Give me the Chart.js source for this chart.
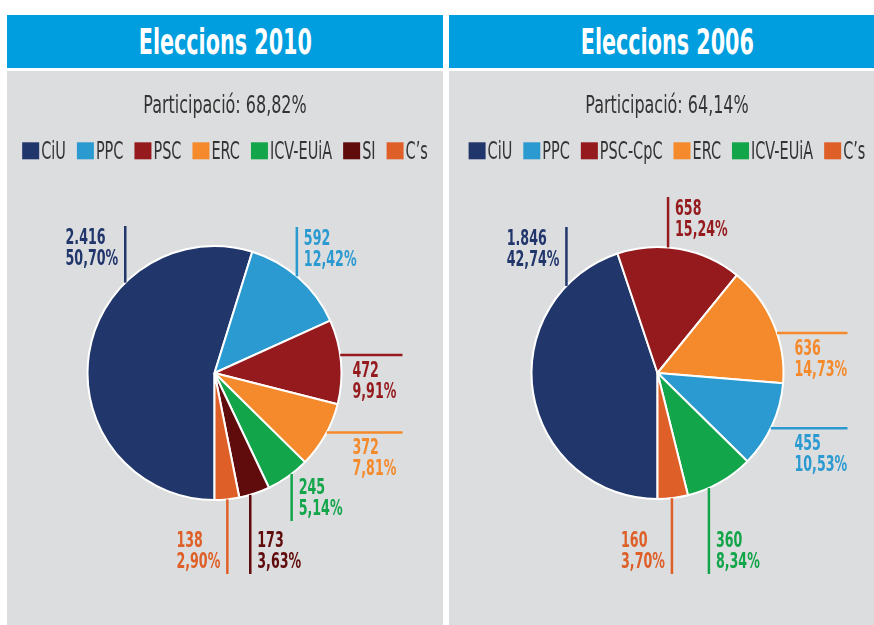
<!DOCTYPE html>
<html><head><meta charset="utf-8">
<script src="https://cdn.jsdelivr.net/npm/chart.js@4.4.1/dist/chart.umd.min.js"></script>
<style>
html,body{margin:0;padding:0;background:#fff;width:874px;height:625px;overflow:hidden;}
.panel{position:absolute;top:15px;width:436px;height:610px;}
.head{position:absolute;left:0;top:0;width:436px;height:53px;background:#009EDE;display:flex;align-items:center;justify-content:center;}
.head span{color:#fff;font:bold 36px "DejaVu Sans Condensed",sans-serif;transform:scaleX(0.64);display:inline-block;white-space:nowrap;}
.body{position:absolute;left:0;top:56px;width:436px;height:554px;background:#DCDDDF;}
canvas{display:block;}
</style></head>
<body>
<div class="panel" style="left:7px"><div class="head"><span id="t1"></span></div><div class="body"><canvas id="c1" width="436" height="554"></canvas></div></div>
<div class="panel" style="left:449px"><div class="head"><span id="t2"></span></div><div class="body"><canvas id="c2" width="436" height="554"></canvas></div></div>
<script>
// ---------- DATA ----------
const year2010 = 2010;
const participation2010 = 68.82;
const parties2010 = ['CiU', 'PPC', 'PSC', 'ERC', 'ICV-EUiA', 'SI', 'C’s'];
const votes2010 = [2416, 592, 472, 372, 245, 173, 138];
const percents2010 = [50.70, 12.42, 9.91, 7.81, 5.14, 3.63, 2.90];
const legendOrder2010 = ['CiU', 'PPC', 'PSC', 'ERC', 'ICV-EUiA', 'SI', 'C’s'];

const year2006 = 2006;
const participation2006 = 64.14;
const parties2006 = ['CiU', 'PSC-CpC', 'ERC', 'PPC', 'ICV-EUiA', 'C’s'];
const votes2006 = [1846, 658, 636, 455, 360, 160];
const percents2006 = [42.74, 15.24, 14.73, 10.53, 8.34, 3.70];
const legendOrder2006 = ['CiU', 'PPC', 'PSC-CpC', 'ERC', 'ICV-EUiA', 'C’s'];

// ---------- STYLE ----------
const partyColors = {
  'CiU': '#21366B', 'PPC': '#2B9AD0', 'PSC': '#951A1D', 'PSC-CpC': '#951A1D',
  'ERC': '#F48A2B', 'ICV-EUiA': '#13A54A', 'SI': '#600B0C', 'C’s': '#DE5F27'
};
const FAMILY = '"DejaVu Sans Condensed",sans-serif';
const LABEL_FONT = 'bold 21px ' + FAMILY, SX_LABEL = 0.67;
const LEG_FONT = '24px ' + FAMILY, SX_LEG = 0.67;
const PART_FONT = '24px ' + FAMILY, SX_PART = 0.74;
const TEXT_GRAY = '#343434';

// label layout (direction of leader line, anchor fraction within slice, reach from centre, text side)
const layout2010 = [
  {dir: 'up', at: 0.686, reach: 147, side: 'left'},
  {dir: 'up', at: 0.478, reach: 146, side: 'right'},
  {dir: 'right', at: 0.42, reach: 188},
  {dir: 'right', at: 0.45, reach: 188},
  {dir: 'down', at: 0.40, reach: 148, side: 'right'},
  {dir: 'down', at: 0.64, reach: 201, side: 'right'},
  {dir: 'down', at: 0.485, reach: 201, side: 'left'}
];
const layout2006 = [
  {dir: 'up', at: 0.828, reach: 146, side: 'left'},
  {dir: 'up', at: 0.405, reach: 176, side: 'right'},
  {dir: 'right', at: 0.583, reach: 190},
  {dir: 'right', at: 0.535, reach: 190},
  {dir: 'down', at: 0.68, reach: 201, side: 'right'},
  {dir: 'down', at: 0.53, reach: 201, side: 'left'}
];

const fmtInt = v => String(v).replace(/\B(?=(\d{3})+(?!\d))/g, '.');
const fmtPct = p => p.toFixed(2).replace('.', ',') + '%';

function condensedText(ctx, text, x, y, sx, align) {
  const w = ctx.measureText(text).width * sx;
  let x0 = x;
  if (align === 'center') x0 = x - w / 2; else if (align === 'right') x0 = x - w;
  ctx.save();
  ctx.translate(x0, y); ctx.scale(sx, 1);
  ctx.textAlign = 'left'; ctx.textBaseline = 'alphabetic';
  ctx.fillText(text, 0, 0);
  ctx.restore();
  return w;
}

const sliceLabels = {
  id: 'sliceLabels',
  afterDatasetsDraw(chart, args, opts) {
    const ctx = chart.ctx;
    const meta = chart.getDatasetMeta(0);
    const ds = chart.data.datasets[0];
    meta.data.forEach((arc, i) => {
      const L = opts.layout[i];
      const p = arc.getProps(['x', 'y', 'startAngle', 'endAngle', 'outerRadius'], true);
      const cx = p.x, cy = p.y, R = p.outerRadius;
      const a = p.startAngle + L.at * (p.endAngle - p.startAngle);
      const px = cx + R * Math.cos(a), py = cy + R * Math.sin(a);
      let ex = px, ey = py;
      if (L.dir === 'up') ey = cy - L.reach;
      else if (L.dir === 'down') ey = cy + L.reach;
      else ex = cx + L.reach;
      const color = ds.backgroundColor[i];
      ctx.save();
      ctx.strokeStyle = color; ctx.lineWidth = 2.5;
      ctx.beginPath(); ctx.moveTo(px, py); ctx.lineTo(ex, ey); ctx.stroke();
      ctx.fillStyle = color; ctx.font = LABEL_FONT;
      const lines = [fmtInt(ds.data[i]), fmtPct(opts.percents[i])];
      const bw = Math.max(...lines.map(t => ctx.measureText(t).width * SX_LABEL));
      let tx, b1;
      if (L.dir === 'right') { tx = cx + R + 11; b1 = ey + 22; }
      else {
        tx = L.side === 'left' ? ex - 7 - bw : ex + 7;
        b1 = L.dir === 'up' ? ey + 18 : ey - 6 - 21;
      }
      lines.forEach((t, k) => condensedText(ctx, t, tx, b1 + k * 21, SX_LABEL, 'left'));
      ctx.restore();
    });
  }
};

const pieLegend = {
  id: 'pieLegend',
  afterDraw(chart, args, opts) {
    const ctx = chart.ctx;
    const ds = chart.data.datasets[0];
    const labels = chart.data.labels;
    const cx = chart.width / 2;
    ctx.save();
    ctx.font = PART_FONT; ctx.fillStyle = TEXT_GRAY;
    condensedText(ctx, 'Participació: ' + fmtPct(opts.participation), cx, 41.5, SX_PART, 'center');
    ctx.font = LEG_FONT;
    const items = opts.order.map(name => {
      const i = labels.indexOf(name);
      return {text: name, color: ds.backgroundColor[i], w: ctx.measureText(name).width * SX_LEG};
    });
    const box = 17, gap = 2, spacing = 11;
    const total = items.reduce((s, it) => s + box + gap + it.w, 0) + spacing * (items.length - 1);
    let x = cx - total / 2;
    items.forEach(it => {
      ctx.fillStyle = it.color; ctx.fillRect(x, 71.3, box, box);
      ctx.fillStyle = TEXT_GRAY;
      condensedText(ctx, it.text, x + box + gap, 88.3, SX_LEG, 'left');
      x += box + gap + it.w + spacing;
    });
    ctx.restore();
  }
};

function makePie(id, parties, votes, percents, layout, order, participation, radius, padRight) {
  return new Chart(document.getElementById(id), {
    type: 'pie',
    data: {
      labels: parties,
      datasets: [{
        data: votes,
        backgroundColor: parties.map(p => partyColors[p]),
        borderColor: '#ffffff',
        borderWidth: 2
      }]
    },
    options: {
      responsive: false,
      animation: false,
      devicePixelRatio: 1,
      rotation: 180,
      radius: radius,
      layout: {padding: {left: 0, right: padRight, top: 50, bottom: 0}},
      plugins: {
        legend: {display: false},
        tooltip: {enabled: false},
        sliceLabels: {layout: layout, percents: percents},
        pieLegend: {order: order, participation: participation}
      }
    },
    plugins: [sliceLabels, pieLegend]
  });
}

document.getElementById('t1').textContent = 'Eleccions ' + year2010;
document.getElementById('t2').textContent = 'Eleccions ' + year2006;
makePie('c1', parties2010, votes2010, percents2010, layout2010, legendOrder2010, participation2010, 127, 21);
makePie('c2', parties2006, votes2006, percents2006, layout2006, legendOrder2006, participation2006, 126, 19);
</script>
</body></html>
